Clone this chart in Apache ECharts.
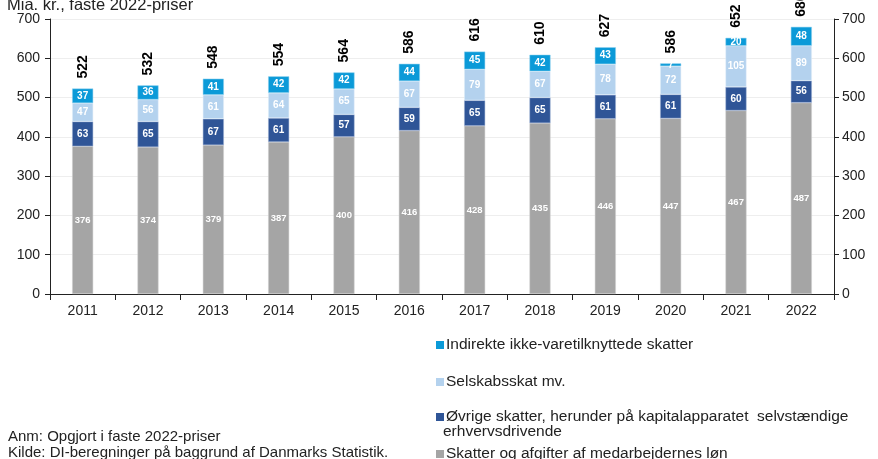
<!DOCTYPE html>
<html>
<head>
<meta charset="utf-8">
<script src="https://cdn.jsdelivr.net/npm/echarts@6/dist/echarts.min.js"></script>
<style>
  html, body { margin: 0; padding: 0; background: #fff; }
  #chart { width: 878px; height: 459px; }
</style>
</head>
<body>
<div id="chart"></div>
<script>
// data
var years = ['2011', '2012', '2013', '2014', '2015', '2016', '2017', '2018', '2019', '2020', '2021', '2022']
var loen = [376, 374, 379, 387, 400, 416, 428, 435, 446, 447, 467, 487]
var oevrige = [63, 65, 67, 61, 57, 59, 65, 65, 61, 61, 60, 56]
var selskab = [47, 56, 61, 64, 65, 67, 79, 67, 78, 72, 105, 89]
var indirekte = [37, 36, 41, 42, 42, 44, 45, 42, 43, 7, 20, 48]
var totals = [522, 532, 548, 554, 564, 586, 616, 610, 627, 586, 652, 680]

var FONT = 'Liberation Sans, Arial, sans-serif'

var chart = echarts.init(document.getElementById('chart'))

var innerLabel = {
  show: true,
  position: 'inside',
  color: '#fff',
  fontSize: 10,
  fontWeight: 'bold',
  fontFamily: FONT
}

function legendBox(name, top) {
  return {
    data: [name],
    left: 431,
    top: top,
    orient: 'vertical',
    icon: 'rect',
    itemWidth: 8,
    itemHeight: 8,
    selectedMode: false,
    itemStyle: { borderWidth: 0 },
    textStyle: { fontSize: 15.5, color: '#222', fontFamily: FONT, padding: [0, 0, 0, -3] }
  }
}

var option = {
  animation: false,
  textStyle: { fontFamily: FONT },
  title: {
    text: 'Mia. kr., faste 2022-priser',
    left: 2,
    top: -8,
    textStyle: { fontSize: 16.5, fontWeight: 'normal', color: '#222', fontFamily: FONT }
  },
  grid: { left: 50, right: 44, top: 19, bottom: 165 },
  legend: [
    legendBox('Indirekte ikke-varetilknyttede skatter', 332),
    legendBox('Selskabsskat mv.', 369),
    legendBox('Øvrige skatter, herunder på kapitalapparatet  selvstændige', 404),
    legendBox('Skatter og afgifter af medarbejdernes løn', 441)
  ],
  graphic: [
    { type: 'text', left: 443, top: 424, style: { text: 'erhvervsdrivende', fontSize: 15.5, fill: '#222', fontFamily: FONT } },
    { type: 'text', left: 8, top: 429, style: { text: 'Anm: Opgjort i faste 2022-priser', fontSize: 15, fill: '#222', fontFamily: FONT } },
    { type: 'text', left: 8, top: 445, style: { text: 'Kilde: DI-beregninger på baggrund af Danmarks Statistik.', fontSize: 15, fill: '#222', fontFamily: FONT } }
  ],
  xAxis: {
    type: 'category',
    data: years,
    axisLine: { lineStyle: { color: '#222' } },
    axisTick: { show: true, length: 6, lineStyle: { color: '#222' } },
    axisLabel: { color: '#222', fontSize: 14, margin: 10, fontFamily: FONT }
  },
  yAxis: [
    {
      type: 'value',
      min: 0,
      max: 700,
      interval: 100,
      axisLine: { show: true, lineStyle: { color: '#222' } },
      axisTick: { show: true, length: 5, lineStyle: { color: '#222' } },
      axisLabel: { color: '#222', fontSize: 14, margin: 10, fontFamily: FONT },
      splitLine: { lineStyle: { color: '#eeeeee' } }
    },
    {
      type: 'value',
      position: 'right',
      min: 0,
      max: 700,
      interval: 100,
      axisLine: { show: true, lineStyle: { color: '#222' } },
      axisTick: { show: true, length: 5, lineStyle: { color: '#222' } },
      axisLabel: { color: '#222', fontSize: 14, margin: 8, fontFamily: FONT },
      splitLine: { show: false }
    }
  ],
  series: [
    {
      name: 'Skatter og afgifter af medarbejdernes løn',
      type: 'bar',
      stack: 'tot',
      barWidth: 21,
      data: loen,
      itemStyle: { color: '#a5a5a5', borderColor: '#d0d0d0', borderWidth: 0.5 },
      label: Object.assign({}, innerLabel, { fontSize: 9.5 })
    },
    {
      name: 'Øvrige skatter, herunder på kapitalapparatet  selvstændige',
      type: 'bar',
      stack: 'tot',
      data: oevrige,
      itemStyle: { color: '#2f5597', borderColor: '#9fb1d4', borderWidth: 0.5 },
      label: innerLabel
    },
    {
      name: 'Selskabsskat mv.',
      type: 'bar',
      stack: 'tot',
      data: selskab,
      itemStyle: { color: '#b4d2ee', borderColor: '#e2eef9', borderWidth: 0.5 },
      label: innerLabel
    },
    {
      name: 'Indirekte ikke-varetilknyttede skatter',
      type: 'bar',
      stack: 'tot',
      data: indirekte,
      itemStyle: { color: '#0b9ad8', borderColor: '#8fd0ef', borderWidth: 0.5 },
      label: innerLabel
    },
    {
      // invisible segment that carries the rotated total above each bar
      name: 'total',
      type: 'bar',
      stack: 'tot',
      data: years.map(function () { return 0 }),
      itemStyle: { color: 'transparent' },
      label: {
        show: true,
        position: 'top',
        distance: 10,
        rotate: 90,
        align: 'left',
        verticalAlign: 'middle',
        color: '#000',
        fontSize: 14,
        fontWeight: 'bold',
        fontFamily: FONT,
        formatter: function (p) { return totals[p.dataIndex] }
      }
    }
  ]
}

chart.setOption(option)
</script>
</body>
</html>
